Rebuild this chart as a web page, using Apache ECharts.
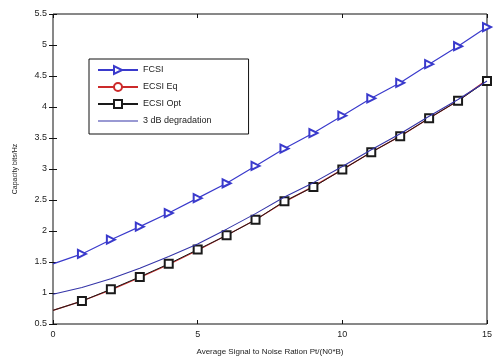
<!DOCTYPE html>
<html>
<head>
<meta charset="utf-8">
<script src="https://cdn.jsdelivr.net/npm/echarts@6/dist/echarts.min.js"></script>
<style>
  html, body { margin: 0; padding: 0; background: #fff; }
  #chart { width: 495px; height: 361px; }
</style>
</head>
<body>
<div id="chart"></div>
<script>
// x 轴：平均信噪比
const snr = [0, 1, 2, 3, 4, 5, 6, 7, 8, 9, 10, 11, 12, 13, 14, 15];
// 各曲线容量值 (bits/Hz)
const fcsi = [1.47, 1.63, 1.86, 2.07, 2.29, 2.53, 2.77, 3.05, 3.33, 3.58, 3.86, 4.14, 4.39, 4.69, 4.98, 5.29];
const ecsiEq = [0.72, 0.87, 1.05, 1.25, 1.46, 1.69, 1.93, 2.18, 2.47, 2.72, 2.99, 3.27, 3.53, 3.82, 4.10, 4.44];
const ecsiOpt = [0.72, 0.87, 1.06, 1.26, 1.47, 1.70, 1.93, 2.18, 2.48, 2.71, 2.99, 3.27, 3.53, 3.82, 4.10, 4.42];
const deg3dB = [0.98, 1.09, 1.23, 1.40, 1.59, 1.79, 2.03, 2.28, 2.55, 2.78, 3.04, 3.31, 3.57, 3.85, 4.12, 4.42];
const names = ["FCSI", "ECSI Eq", "ECSI Opt", "3 dB degradation"];

const chart = echarts.init(document.getElementById("chart"));

// 第一个点 (x=0) 不画标记
const toData = (vals, withMarker) =>
  vals.map((v, i) => {
    const item = { value: [snr[i], v] };
    if (i === 0 || !withMarker) item.symbol = "none";
    return item;
  });

const font = "Liberation Sans, Arial, sans-serif";
const tick = { show: true, inside: true, length: 4, lineStyle: { color: "#111" } };

const option = {
  backgroundColor: "#fff",
  animation: false,
  grid: {
    left: 53,
    right: 4,
    top: 14,
    bottom: 34,
    show: true,
    borderColor: "#111",
    borderWidth: 1,
  },
  legend: {
    orient: "vertical",
    left: 89,
    top: 59,
    // 3 dB 那条只画线，不要圆点
    data: [
      names[0],
      names[1],
      names[2],
      { name: names[3], icon: "path://M0,0 M40,10 M0,4.4 L40,4.4 L40,5.6 L0,5.6 Z" },
    ],
    backgroundColor: "#fff",
    borderColor: "#111",
    borderWidth: 1,
    borderRadius: 0,
    padding: [6, 37, 8, 8],
    itemWidth: 40,
    itemHeight: 10,
    itemGap: 7,
    textStyle: { fontSize: 9, color: "#222", fontFamily: font },
  },
  xAxis: [
    {
      type: "value",
      min: 0,
      max: 15,
      interval: 5,
      name: "Average Signal to Noise Ration Pt/(N0*B)",
      nameLocation: "middle",
      nameGap: 24,
      nameTextStyle: { fontSize: 8, color: "#222", fontFamily: font },
      axisLine: { show: false },
      axisTick: tick,
      axisLabel: { fontSize: 9, color: "#222", margin: 6, fontFamily: font },
      splitLine: { show: false },
    },
    {
      type: "value",
      position: "top",
      min: 0,
      max: 15,
      interval: 5,
      axisLine: { show: false },
      axisTick: tick,
      axisLabel: { show: false },
      splitLine: { show: false },
    },
  ],
  yAxis: [
    {
      type: "value",
      min: 0.5,
      max: 5.5,
      interval: 0.5,
      name: "Capacity bits/Hz",
      nameLocation: "middle",
      nameGap: 34,
      nameTextStyle: { fontSize: 7, color: "#222", fontFamily: font },
      axisLine: { show: false },
      axisTick: tick,
      axisLabel: { fontSize: 9, color: "#222", margin: 6, fontFamily: font },
      splitLine: { show: false },
    },
    {
      type: "value",
      position: "right",
      min: 0.5,
      max: 5.5,
      interval: 0.5,
      axisLine: { show: false },
      axisTick: tick,
      axisLabel: { show: false },
      splitLine: { show: false },
    },
  ],
  series: [
    {
      name: names[0],
      type: "line",
      data: toData(fcsi, true),
      symbol: "emptyTriangle",
      symbolSize: 8,
      symbolRotate: -90,
      color: "#3a3acc",
      lineStyle: { width: 1.2, color: "#3a3acc" },
      itemStyle: { color: "#3a3acc", borderColor: "#3a3acc", borderWidth: 1.2 },
      z: 4,
    },
    {
      name: names[1],
      type: "line",
      data: toData(ecsiEq, true),
      symbol: "emptyCircle",
      symbolSize: 5,
      color: "#cc2a2a",
      lineStyle: { width: 1.2, color: "#cc2a2a" },
      itemStyle: { color: "#cc2a2a", borderColor: "#d86a6a", borderWidth: 1 },
      z: 2,
    },
    {
      name: names[2],
      type: "line",
      data: toData(ecsiOpt, true),
      symbol: "emptyRect",
      symbolSize: 8,
      color: "#1a1a1a",
      lineStyle: { width: 1, color: "#1a1a1a" },
      itemStyle: { color: "#1a1a1a", borderColor: "#1a1a1a", borderWidth: 1.3 },
      z: 3,
    },
    {
      name: names[3],
      type: "line",
      data: toData(deg3dB, false),
      symbol: "none",
      showSymbol: false,
      color: "#3434a8",
      lineStyle: { width: 1.1, color: "#3434a8" },
      z: 5,
    },
  ],
};

chart.setOption(option);
</script>
</body>
</html>
